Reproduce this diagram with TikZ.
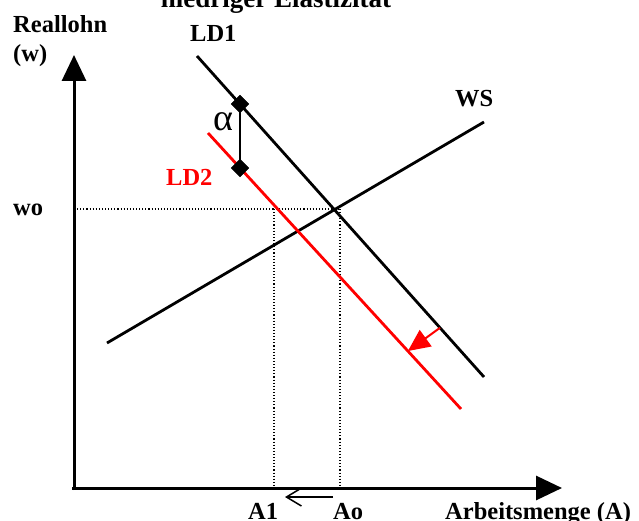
\documentclass[tikz,border=0pt]{standalone}
\usepackage{fontspec}
\setmainfont{Liberation Serif}
\usetikzlibrary{arrows.meta}
\begin{document}
\begin{tikzpicture}[x=1pt,y=-1pt,
  lbl/.style={font=\fontsize{24.5}{26}\selectfont\bfseries, inner sep=0pt, anchor=base west},
  curve/.style={line width=2.8pt},
  redcurve/.style={line width=2.8pt, draw=red},
  guide/.style={line width=1.1pt, dotted},
  axis/.style={line width=3pt, -{Triangle[length=26pt,width=24pt]}},
  knot/.style={draw, fill, rectangle, rotate=45, minimum size=12.5pt, inner sep=0pt},
  shift arrow/.style={draw=red, fill=red, line width=2pt, -{Triangle[length=22pt,width=20pt]}},
  quantity arrow/.style={line width=1.5pt, -{Straight Barb[length=15pt,width=18pt]}}
]
\useasboundingbox (0,0) rectangle (639,521);

% title (cut off at the top)
\node[font=\fontsize{27}{30}\selectfont\bfseries, anchor=base, inner sep=0pt] (title) at (276,8) {niedriger Elastizität};

% axes
\coordinate (Ybot) at (74,490);
\coordinate (Ytip) at (74,55);
\coordinate (Xstart) at (72,488);
\coordinate (Xtip) at (562,488);
\draw[axis] (Ybot) -- (Ytip);
\draw[axis] (Xstart) -- (Xtip);

% curves
\coordinate (ld1a) at (197,56);
\coordinate (ld1b) at (484,377);
\coordinate (ld2a) at (208,133);
\coordinate (ld2b) at (461,409);
\coordinate (wsa) at (107,343);
\coordinate (wsb) at (484,122);

% equilibrium points
\coordinate (E0) at (340,209);
\coordinate (E1) at (274,209);
\coordinate (Wax) at (74,209);
\coordinate (A0ax) at (340,488);
\coordinate (A1ax) at (274,488);

\draw[guide] (Wax) -- (E0);
\draw[guide] (E0) -- (A0ax);
\draw[guide] (E1) -- (A1ax);

\draw[curve] (ld1a) -- (ld1b);
\draw[curve] (wsa) -- (wsb);
\draw[redcurve] (ld2a) -- (ld2b);

% alpha markers
\path (ld1a) -- (ld1b) coordinate[pos=0.1498] (k1);
\path (ld2a) -- (ld2b) coordinate[pos=0.1265] (k2);
\draw[line width=1.8pt] (k1) -- (k2);
\node[knot] (knot1) at (k1) {};
\node[knot] (knot2) at (k2) {};
\node[font=\fontsize{38}{40}\selectfont, inner sep=0pt] (alpha) at (223,122) {α};

% shift arrow
\path (ld1a) -- (ld1b) coordinate[pos=0.8467] (s1);
\path (ld2a) -- (ld2b) coordinate[pos=0.79] (s2);
\draw[shift arrow] (s1) -- (s2);

% labels
\node[lbl] (reallohn) at (13,33) {Reallohn};
\node[lbl] (wlab) at (13,62) {(w)};
\node[lbl] (ld1) at (190,42) {LD1};
\node[lbl] (ws) at (455,107) {WS};
\node[lbl, text=red] (ld2) at (166,186) {LD2};
\node[lbl] (wo) at (13,215) {wo};
\node[lbl] (a1) at (248,519) {A1};
\node[lbl] (ao) at (333,519) {Ao};
\node[lbl] (xlab) at (445,519) {Arbeitsmenge (A)};

\coordinate (qa) at (333,497);
\coordinate (qb) at (285,497);
\draw[quantity arrow] (qa) -- (qb);
\end{tikzpicture}
\end{document}
